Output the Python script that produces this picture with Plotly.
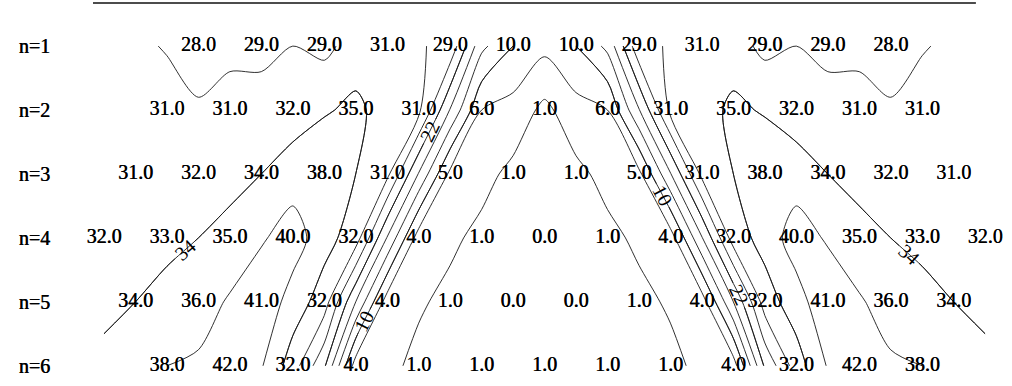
import plotly.graph_objects as go

# ---- data (hexagonal layout, rows n=1..6) ----
row_labels = ["n=1", "n=2", "n=3", "n=4", "n=5", "n=6"]
row1 = [28.0, 29.0, 29.0, 31.0, 29.0, 10.0, 10.0, 29.0, 31.0, 29.0, 29.0, 28.0]
row2 = [31.0, 31.0, 32.0, 35.0, 31.0, 6.0, 1.0, 6.0, 31.0, 35.0, 32.0, 31.0, 31.0]
row3 = [31.0, 32.0, 34.0, 38.0, 31.0, 5.0, 1.0, 1.0, 5.0, 31.0, 38.0, 34.0, 32.0, 31.0]
row4 = [32.0, 33.0, 35.0, 40.0, 32.0, 4.0, 1.0, 0.0, 1.0, 4.0, 32.0, 40.0, 35.0, 33.0, 32.0]
row5 = [34.0, 36.0, 41.0, 32.0, 4.0, 1.0, 0.0, 0.0, 1.0, 4.0, 32.0, 41.0, 36.0, 34.0]
row6 = [38.0, 42.0, 32.0, 4.0, 1.0, 1.0, 1.0, 1.0, 1.0, 4.0, 32.0, 42.0, 38.0]
rows = [row1, row2, row3, row4, row5, row6]

# contour levels
level_start, level_end, level_step = 2, 42, 4
label_start, label_end, label_step = 10, 34, 12

# ---- build the staggered grid (half-column index) ----
ncols = 2 * max(len(r) for r in rows) - 1
col_index = list(range(ncols))
row_index = list(range(1, len(rows) + 1))
grid = [[None] * ncols for _ in rows]
tx, ty, tt = [], [], []
for i, r in enumerate(rows):
    start = (ncols - (2 * len(r) - 1)) // 2
    for k, v in enumerate(r):
        j = start + 2 * k
        grid[i][j] = v
        tx.append(j)
        ty.append(i + 1)
        tt.append(f"{v:.1f}")

line_style = dict(color="#1a1a1a", width=0.9, smoothing=0.8)
serif = "Liberation Serif, Times New Roman, serif"
heavy = "0.45px 0px 0px #000"

fig = go.Figure()
fig.add_trace(go.Contour(
    z=grid, x=col_index, y=row_index, connectgaps=True,
    contours=dict(coloring="none", start=level_start, end=level_end,
                  size=level_step, showlabels=False),
    line=line_style, showscale=False, hoverinfo="skip"))
fig.add_trace(go.Contour(
    z=grid, x=col_index, y=row_index, connectgaps=True,
    contours=dict(coloring="none", start=label_start, end=label_end,
                  size=label_step, showlabels=True,
                  labelfont=dict(family=serif, size=20, color="black")),
    line=line_style, showscale=False, hoverinfo="skip"))
fig.add_trace(go.Scatter(
    x=tx, y=ty, text=tt, mode="text", cliponaxis=False,
    textfont=dict(family=serif, size=20, color="black", shadow=heavy),
    hoverinfo="skip", showlegend=False))

fig.update_layout(
    template="none",
    width=1012, height=386,
    margin=dict(l=93, r=19, t=3, b=0),
    paper_bgcolor="white", plot_bgcolor="white",
    showlegend=False,
    xaxis=dict(range=[-0.349, 28.25], showline=False, showgrid=False,
               zeroline=False, showticklabels=False, ticks=""),
    yaxis=dict(range=[6.316, 0.326], tickmode="array", tickvals=row_index,
               ticktext=row_labels, showgrid=False, zeroline=False,
               showline=False, ticks="outside", ticklen=38,
               tickcolor="rgba(0,0,0,0)",
               tickfont=dict(family=serif, size=20, color="black", shadow=heavy)),
    shapes=[dict(type="line", xref="paper", yref="paper",
                 x0=0, x1=0.981, y0=1, y1=1,
                 line=dict(color="#111111", width=1.6))],
)

fig.write_html("out.html", config={"displayModeBar": False},
               post_script="document.body.style.margin='0';")
